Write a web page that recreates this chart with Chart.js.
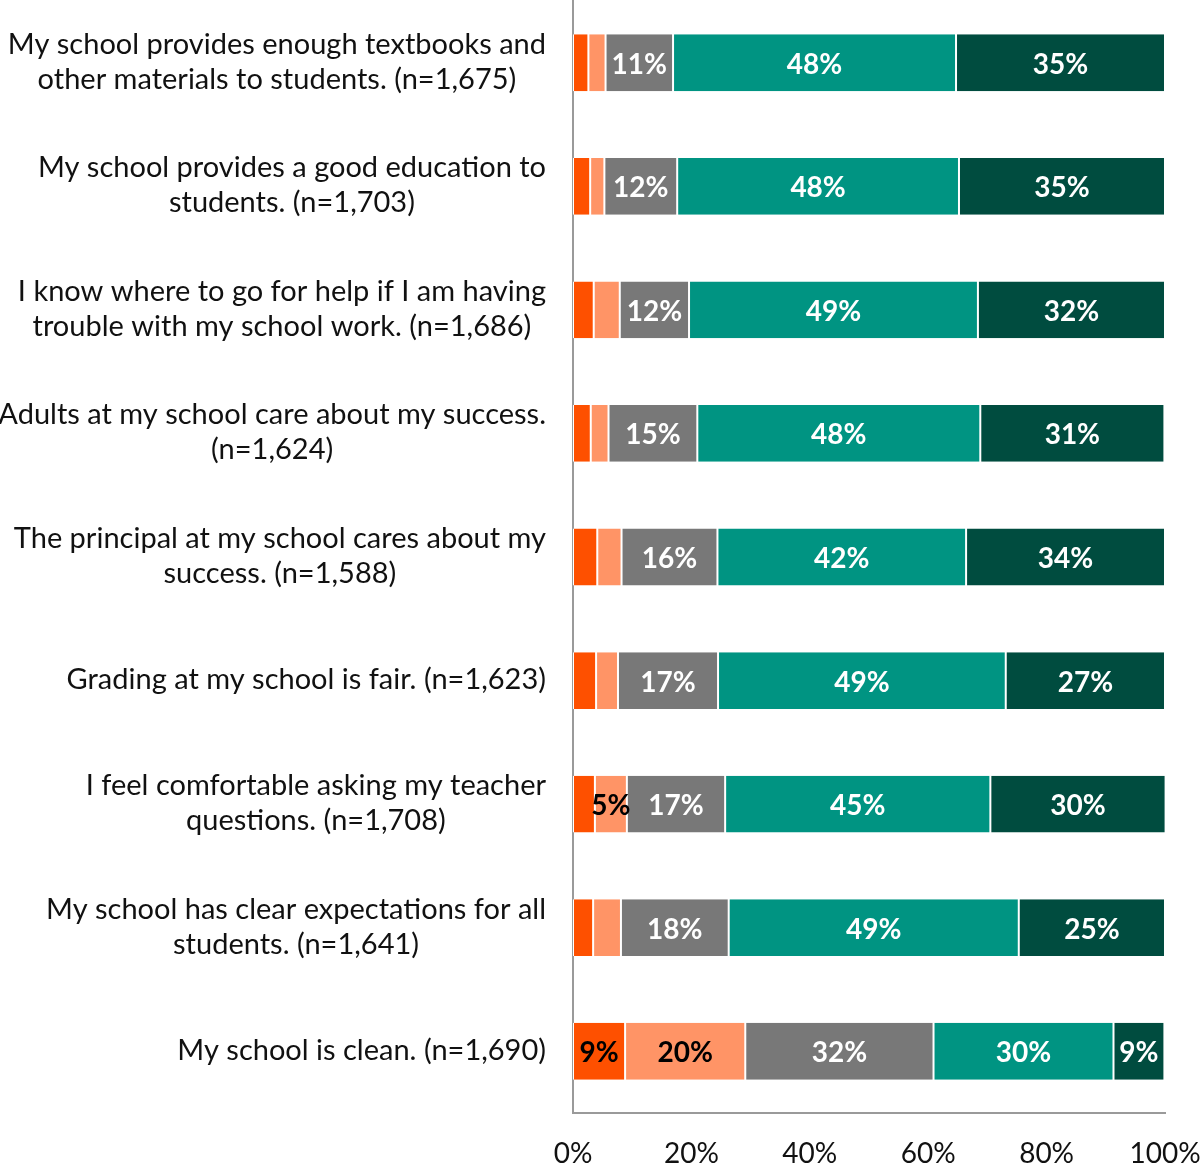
<!DOCTYPE html>
<html>
<head>
<meta charset="utf-8">
<script src="https://cdn.jsdelivr.net/npm/chart.js@4.4.1/dist/chart.umd.min.js"></script>
<style>
  html, body { margin: 0; padding: 0; background: #fff; }
  #wrap { width: 1203px; height: 1168px; position: relative; }
</style>
</head>
<body>
<div id="wrap"><canvas id="surveyChart"></canvas></div>
<script>
// Nhãn câu hỏi (mỗi dòng một phần tử)
const questions = [
    ['My school provides enough textbooks and', 'other materials to students. (n=1,675)'],
    ['My school provides a good education to', 'students. (n=1,703)'],
    ['I know where to go for help if I am having', 'trouble with my school work. (n=1,686)'],
    ['Adults at my school care about my success.', '(n=1,624)'],
    ['The principal at my school cares about my', 'success. (n=1,588)'],
    ['Grading at my school is fair. (n=1,623)'],
    ['I feel comfortable asking my teacher', 'questions. (n=1,708)'],
    ['My school has clear expectations for all', 'students. (n=1,641)'],
    ['My school is clean. (n=1,690)']
];

// Tỉ lệ phần trăm cho từng mức độ
const stronglyDisagree = [2.6, 2.9, 3.5, 3.0, 4.1, 3.9, 3.7, 3.4, 8.8];
const disagree         = [2.9, 2.4, 4.4, 3.0, 4.1, 3.7, 5.4, 4.7, 20.3];
const neutral          = [11.4, 12.3, 11.7, 15.0, 16.2, 16.9, 16.6, 18.2, 31.8];
const agree            = [47.8, 47.6, 48.8, 47.8, 42.0, 48.6, 44.8, 49.0, 30.4];
const stronglyAgree    = [35.3, 34.8, 31.6, 31.1, 33.6, 26.9, 29.6, 24.7, 8.6];

const xTicks = [0, 20, 40, 60, 80, 100];

const FONT = 'Lato, "Open Sans", sans-serif';

function makeSet(label, data, color, textColor) {
    return {
        label: label,
        data: data,
        backgroundColor: color,
        borderColor: '#ffffff',
        borderWidth: { left: 1, right: 1, top: 0, bottom: 0 },
        borderSkipped: false,
        textColor: textColor,
        barPercentage: 0.46,
        categoryPercentage: 1.0
    };
}

// Plugin vẽ nhãn % trong các thanh (chỉ khi giá trị >= 5%)
const barLabels = {
    id: 'barLabels',
    afterDatasetsDraw(chart) {
        const ctx = chart.ctx;
        ctx.save();
        ctx.font = 'bold 28px ' + FONT;
        ctx.textAlign = 'center';
        ctx.textBaseline = 'middle';
        chart.data.datasets.forEach((ds, i) => {
            const meta = chart.getDatasetMeta(i);
            meta.data.forEach((bar, j) => {
                if (ds.data[j] < 5) return;
                ctx.fillStyle = ds.textColor;
                ctx.fillText(Math.round(ds.data[j]) + '%', (bar.x + bar.base) / 2, bar.y + 2);
            });
        });
        ctx.restore();
    }
};

// Plugin vẽ nhãn trục y: khối căn phải, từng dòng căn giữa trong khối
const questionLabels = {
    id: 'questionLabels',
    afterDraw(chart) {
        const ctx = chart.ctx;
        const yScale = chart.scales.y;
        const rightEdge = chart.chartArea.left - 27;
        const lineH = 35;
        ctx.save();
        ctx.font = '29px ' + FONT;
        ctx.fillStyle = '#111111';
        ctx.textAlign = 'center';
        ctx.textBaseline = 'middle';
        questions.forEach((lines, i) => {
            const widest = Math.max(...lines.map(l => ctx.measureText(l).width));
            const cx = rightEdge - widest / 2;
            const cy = yScale.getPixelForValue(i) - 1;
            const y0 = cy - (lines.length - 1) * lineH / 2;
            lines.forEach((l, k) => ctx.fillText(l, cx, y0 + k * lineH));
        });
        ctx.restore();
    }
};

const ctx = document.getElementById('surveyChart').getContext('2d');
new Chart(ctx, {
    type: 'bar',
    data: {
        labels: questions.map(q => q.join(' ')),
        datasets: [
            makeSet('Strongly disagree', stronglyDisagree, '#fe5000', '#000000'),
            makeSet('Disagree', disagree, '#ff9466', '#000000'),
            makeSet('Neutral', neutral, '#787878', '#ffffff'),
            makeSet('Agree', agree, '#009482', '#ffffff'),
            makeSet('Strongly agree', stronglyAgree, '#004c3f', '#ffffff')
        ]
    },
    options: {
        indexAxis: 'y',
        responsive: true,
        maintainAspectRatio: false,
        animation: false,
        layout: { padding: { left: 0, right: 38, top: 1, bottom: 0 } },
        plugins: {
            legend: { display: false },
            tooltip: { enabled: false }
        },
        scales: {
            x: {
                stacked: true,
                min: 0,
                max: 100,
                afterBuildTicks: (scale) => {
                    scale.ticks = xTicks.map(v => ({ value: v }));
                },
                grid: { display: false, drawTicks: false },
                border: { display: true, color: '#9a9a9a', width: 2 },
                ticks: {
                    padding: 24,
                    color: '#111111',
                    font: { family: FONT, size: 28 },
                    callback: (v) => v + '%'
                },
                afterFit: (scale) => {
                    scale.height = 55;
                    scale.paddingLeft = 0;
                    scale.paddingRight = 0;
                }
            },
            y: {
                stacked: true,
                grid: { display: false, drawTicks: false },
                border: { display: true, color: '#9a9a9a', width: 2 },
                ticks: { display: false },
                afterFit: (scale) => { scale.width = 573; }
            }
        }
    },
    plugins: [barLabels, questionLabels]
});
</script>
</body>
</html>
